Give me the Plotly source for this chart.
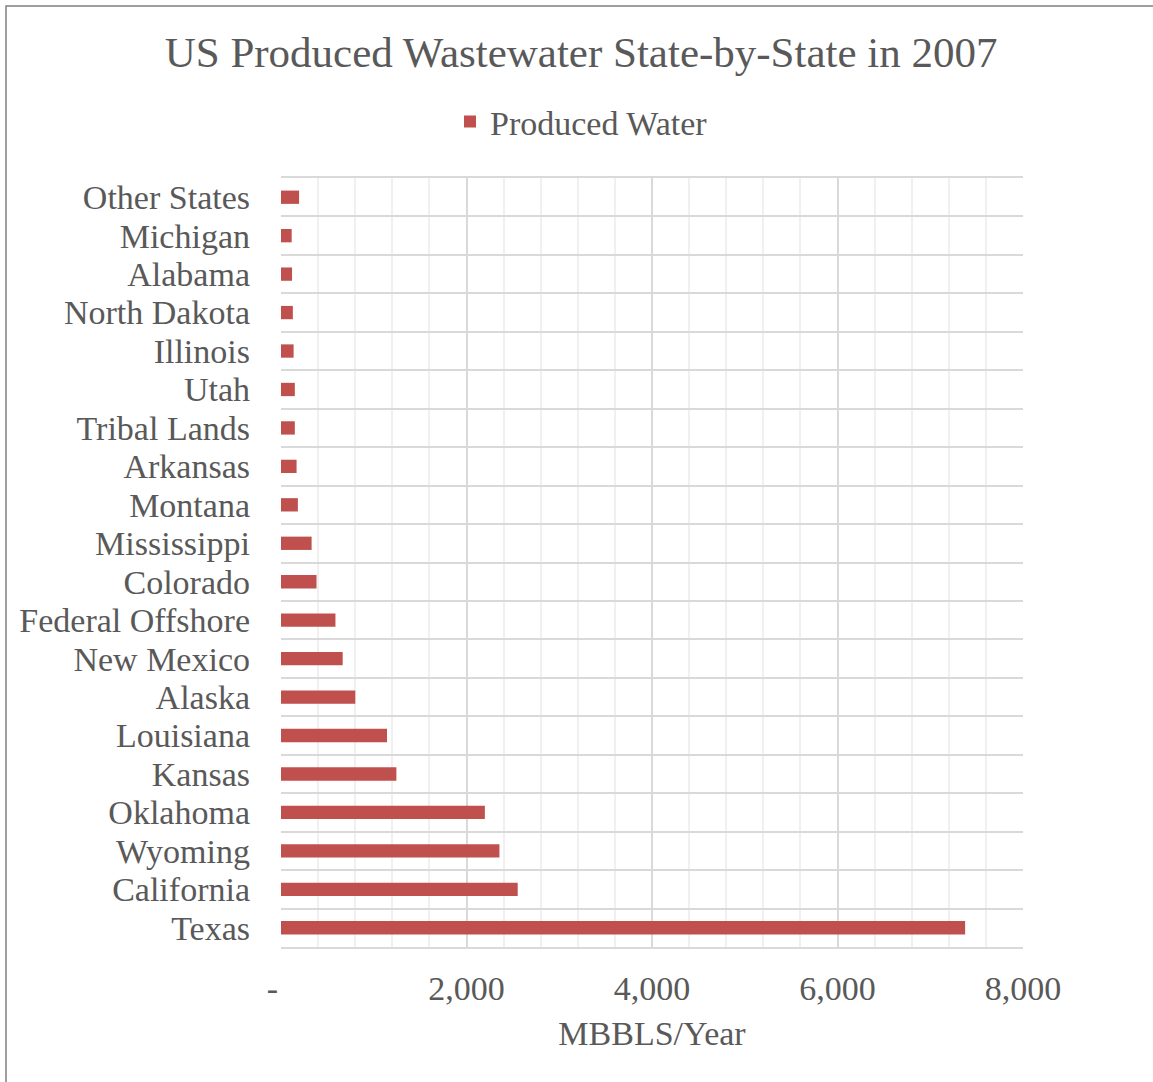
import plotly.graph_objects as go

states = ["Texas", "California", "Wyoming", "Oklahoma", "Kansas", "Louisiana",
          "Alaska", "New Mexico", "Federal Offshore", "Colorado", "Mississippi",
          "Montana", "Arkansas", "Tribal Lands", "Utah", "Illinois",
          "North Dakota", "Alabama", "Michigan", "Other States"]
produced_water = [7376, 2552, 2355, 2198, 1244, 1143, 801, 665, 587, 383, 330,
                  182, 168, 149, 149, 136, 128, 119, 115, 195]

x_tickvals = [0, 2000, 4000, 6000, 8000]
x_ticktext = ["-\u00a0\u00a0", "2,000", "4,000", "6,000", "8,000"]

TEXT = "#595959"
FONT = "Liberation Serif, Times New Roman, serif"
FS = 34

fig = go.Figure()
fig.add_trace(go.Bar(
    y=states, x=produced_water, orientation="h", name="Produced Water",
    marker=dict(color="#C0504D", line=dict(width=0)),
))

fig.update_layout(
    width=1153, height=1082,
    paper_bgcolor="white", plot_bgcolor="white",
    margin=dict(l=281, r=130, t=178, b=135),
    font=dict(family=FONT, color=TEXT, size=FS),
    title=dict(text="US Produced Wastewater State-by-State in 2007",
               x=0.504, xanchor="center", y=0.952, yanchor="middle",
               font=dict(size=43, color=TEXT, family=FONT)),
    showlegend=True,
    legend=dict(orientation="h", x=0.405, xanchor="center", y=1.073, yanchor="middle",
                font=dict(size=FS, color=TEXT, family=FONT),
                itemwidth=30, bgcolor="rgba(0,0,0,0)"),
    bargap=0.654,
    shapes=[dict(type="rect", xref="paper", yref="paper",
                 x0=(6 - 281) / 742, x1=(1200 - 281) / 742,
                 y0=(947 - 1200) / 769, y1=(947 - 6) / 769,
                 line=dict(color="#808080", width=1.5), fillcolor="rgba(0,0,0,0)",
                 layer="below")],
)

fig.update_xaxes(
    range=[0, 8000], tickvals=x_tickvals, ticktext=x_ticktext,
    showgrid=True, gridcolor="#D9D9D9", gridwidth=1.5,
    minor=dict(dtick=400, showgrid=True, gridcolor="#F0F0F0", gridwidth=1.5),
    zeroline=False, showline=True, mirror=True, linecolor="#D9D9D9", linewidth=1.5,
    ticks="outside", ticklen=10, tickcolor="rgba(0,0,0,0)",
    tickfont=dict(size=FS, color=TEXT, family=FONT),
    title=dict(text="MBBLS/Year", font=dict(size=FS, color=TEXT, family=FONT), standoff=16),
)
fig.update_yaxes(
    type="category", tickson="boundaries", tickmode="linear", tick0=0, dtick=1,
    showgrid=True, gridcolor="#D9D9D9", gridwidth=1.5,
    showline=False, zeroline=False,
    ticks="", ticklabelstandoff=30,
    tickfont=dict(size=FS, color=TEXT, family=FONT),
)

fig.write_html("out.html")
